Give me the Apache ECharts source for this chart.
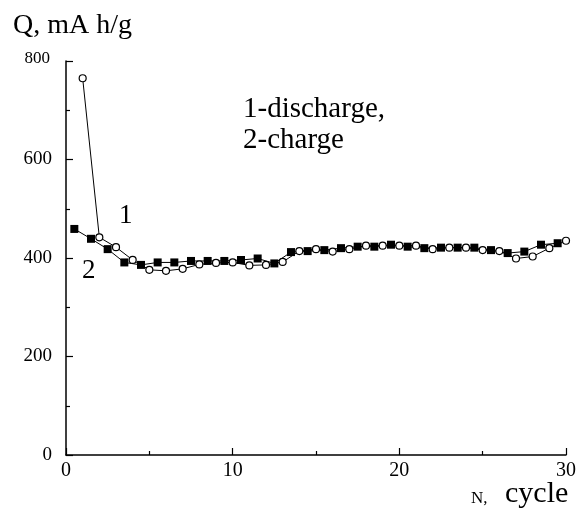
<!DOCTYPE html>
<html>
<head>
<meta charset="utf-8">
<script src="https://cdn.jsdelivr.net/npm/echarts@6/dist/echarts.min.js"></script>
<style>
  html, body { margin: 0; background: #fff; }
  #chart { width: 587px; height: 515px; }
</style>
</head>
<body>
<div id="chart"></div>
<script>
// 1 - discharge (open circles), 2 - charge (filled squares)
const dischargeCycles = [1, 2, 3, 4, 5, 6, 7, 8, 9, 10, 11, 12, 13, 14, 15,
  16, 17, 18, 19, 20, 21, 22, 23, 24, 25, 26, 27, 28, 29, 30];
const dischargeQ = [765, 442, 422, 396, 376, 374, 378, 387, 390, 391, 385, 386, 392, 414, 418,
  413, 418, 425, 425, 425, 425, 418, 421, 421, 416, 414, 399, 403, 420, 435];
const chargeCycles = [0.5, 1.5, 2.5, 3.5, 4.5, 5.5, 6.5, 7.5, 8.5, 9.5, 10.5, 11.5, 12.5, 13.5, 14.5,
  15.5, 16.5, 17.5, 18.5, 19.5, 20.5, 21.5, 22.5, 23.5, 24.5, 25.5, 26.5, 27.5, 28.5, 29.5];
const chargeQ = [459, 439, 418, 391, 386, 391, 391, 394, 394, 394, 396, 399, 389, 412, 414,
  416, 420, 423, 423, 427, 423, 420, 421, 421, 421, 416, 410, 413, 427, 430];
const xRange = [0, 30];
const xStep = 10;
const yRange = [0, 800];
const yStep = 200;

const serif = 'Liberation Serif, Times New Roman, serif';
const chart = echarts.init(document.getElementById('chart'));

const toPairs = (xs, ys) => xs.map((x, i) => [x, ys[i]]);

chart.setOption({
  animation: false,
  backgroundColor: '#fff',
  grid: { left: 66, right: 21, top: 61, bottom: 60 },
  xAxis: {
    type: 'value',
    min: xRange[0],
    max: xRange[1],
    interval: xStep,
    splitLine: { show: false },
    axisLine: { lineStyle: { color: '#000', width: 1.5 } },
    axisTick: { inside: true, length: 7, lineStyle: { color: '#000', width: 1.2 } },
    minorTick: { show: true, splitNumber: 2, length: 4, lineStyle: { color: '#000', width: 1.2 } },
    axisLabel: { color: '#000', fontFamily: serif, fontSize: 20, margin: 6 }
  },
  yAxis: {
    type: 'value',
    min: yRange[0],
    max: yRange[1],
    interval: yStep,
    splitLine: { show: false },
    axisLine: { show: true, lineStyle: { color: '#000', width: 1.5 } },
    axisTick: { show: true, inside: true, length: 7, lineStyle: { color: '#000', width: 1.2 } },
    minorTick: { show: true, splitNumber: 2, length: 4, lineStyle: { color: '#000', width: 1.2 } },
    axisLabel: {
      color: '#000', fontFamily: serif, fontSize: 19, margin: 14,
      formatter: v => (v === yRange[1] ? '{s|' + v + '}' : String(v)),
      rich: { s: { fontFamily: serif, fontSize: 17, color: '#000', padding: [0, 2, 4, 0] } }
    }
  },
  series: [
    {
      name: '2-charge',
      type: 'line',
      data: toPairs(chargeCycles, chargeQ),
      symbol: 'rect',
      symbolSize: 8,
      lineStyle: { color: '#000', width: 1 },
      itemStyle: { color: '#000' },
      z: 2
    },
    {
      name: '1-discharge',
      type: 'line',
      data: toPairs(dischargeCycles, dischargeQ),
      symbol: 'circle',
      symbolSize: 7,
      showAllSymbol: true,
      lineStyle: { color: '#000', width: 1 },
      itemStyle: { color: '#fff', borderColor: '#000', borderWidth: 1.2 },
      z: 3
    }
  ],
  graphic: [
    { type: 'text', left: 13, top: 12, style: { text: 'Q, mA h/g', font: '28px ' + serif, fill: '#000' } },
    { type: 'text', left: 243, top: 95, style: { text: '1-discharge,', font: '29px ' + serif, fill: '#000' } },
    { type: 'text', left: 243, top: 126, style: { text: '2-charge', font: '29px ' + serif, fill: '#000' } },
    { type: 'text', left: 119, top: 202, style: { text: '1', font: '27px ' + serif, fill: '#000' } },
    { type: 'text', left: 82, top: 257, style: { text: '2', font: '27px ' + serif, fill: '#000' } },
    { type: 'text', left: 471, top: 490, style: { text: 'N,', font: '17px ' + serif, fill: '#000' } },
    { type: 'text', left: 505, top: 479, style: { text: 'cycle', font: '30px ' + serif, fill: '#000' } }
  ]
});
</script>
</body>
</html>
